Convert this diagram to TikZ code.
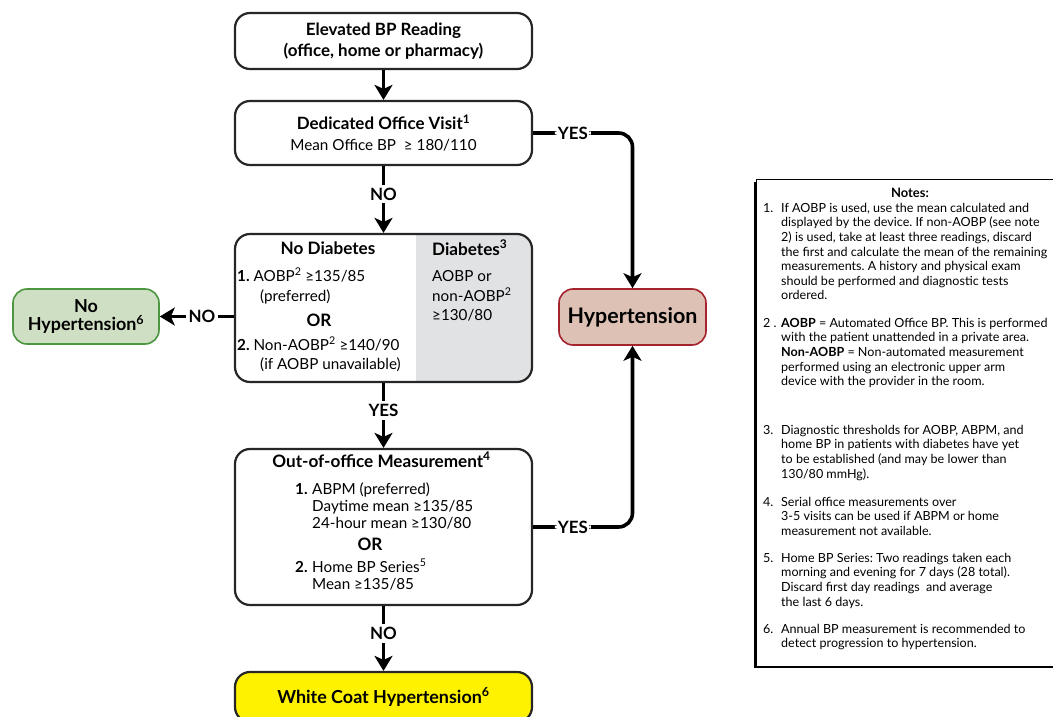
\documentclass[tikz,border=0pt]{standalone}
\usepackage{fontspec}
\setmainfont{Lato}
\usetikzlibrary{positioning}
\usetikzlibrary{arrows.meta}
\usetikzlibrary{calc}

\definecolor{diabgray}{RGB}{225,226,228}
\definecolor{nohypfill}{RGB}{207,223,196}
\definecolor{nohypline}{RGB}{76,150,64}
\definecolor{hypfill}{RGB}{220,193,180}
\definecolor{hypline}{RGB}{165,35,45}
\definecolor{coatfill}{RGB}{255,242,0}

\tikzset{
  box/.style={draw=black!85, line width=2.2bp, rounded corners=15bp, fill=white, minimum width=297bp, align=center, inner sep=0pt},
  arr/.style={line width=3.6bp, -{Stealth[length=15bp,width=18bp,inset=4bp]}},
  lbl/.style={fill=white, inner sep=3bp, font=\fontsize{17}{17}\bfseries\selectfont},
  txt/.style={inner sep=0pt, text height=11bp, text depth=3bp, font=\fontsize{15.3}{17}\selectfont},
  head/.style={txt, font=\fontsize{17.2}{17}\bfseries\selectfont},
  note/.style={inner sep=0pt, anchor=north west, align=left, font=\fontsize{12.6}{14.6}\selectfont}
}

\begin{document}
\frenchspacing
\begin{tikzpicture}[x=1bp, y=-1bp]
 \useasboundingbox (0,0) rectangle (1053,717);
 \clip (0,0) rectangle (1053,717);

 % main column
 \node[box, minimum height=56bp, font=\fontsize{17}{21}\bfseries\selectfont] (elev) at (383.5,41) {Elevated BP Reading\\(office, home or pharmacy)};
 \node[box, minimum height=64bp, font=\fontsize{15.3}{21}\selectfont] (visit) at (383.5,133) {{\fontsize{17}{21}\bfseries\selectfont Dedicated Office Visit\textsuperscript{1}}\\Mean Office BP\ \ ≥ 180/110};

 % screening box, grey column for diabetes
 \begin{scope}
  \clip[rounded corners=15bp] (235,234) rectangle (532,382);
  \fill[diabgray] (416,234) rectangle (532,382);
 \end{scope}
 \node[box, fill=none, minimum height=148bp] (screen) at (383.5,308) {};
 \node[head] (nodiab) at (328,250) {No Diabetes};
 \node[txt, anchor=west] (nd1) at (237,277) {\textbf{1.} AOBP\textsuperscript{2} ≥135/85};
 \node[txt, anchor=west] (nd1b) at (260,297) {(preferred)};
 \node[head] (ndor) at (319,322) {OR};
 \node[txt, anchor=west] (nd2) at (237,346) {\textbf{2.} Non-AOBP\textsuperscript{2} ≥140/90};
 \node[txt, anchor=west] (nd2b) at (260,365) {(if AOBP unavailable)};
 \node[head, anchor=west] (diab) at (432,251) {Diabetes\textsuperscript{3}};
 \node[txt, anchor=west] (d1) at (432,277) {AOBP or};
 \node[txt, anchor=west] (d2) at (432,297) {non-AOBP\textsuperscript{2}};
 \node[txt, anchor=west] (d3) at (432,316) {≥130/80};

 % out of office
 \node[box, minimum height=156bp] (outoff) at (383.5,527) {};
 \node[head] (oohead) at (381.5,463) {Out-of-office Measurement\textsuperscript{4}};
 \node[txt, anchor=west] (oo1n) at (295,490) {\textbf{1.}};
 \node[txt, anchor=west] (oo1a) at (312,490) {ABPM (preferred)};
 \node[txt, anchor=west] (oo1b) at (312,507) {Daytime mean ≥135/85};
 \node[txt, anchor=west] (oo1c) at (312,524) {24-hour mean ≥130/80};
 \node[head] (ooor) at (370,546) {OR};
 \node[txt, anchor=west] (oo2n) at (295,568) {\textbf{2.}};
 \node[txt, anchor=west] (oo2a) at (312,568) {Home BP Series\textsuperscript{5}};
 \node[txt, anchor=west] (oo2b) at (312,585) {Mean ≥135/85};

 \node[box, fill=coatfill, minimum height=50bp, font=\fontsize{18}{18}\bfseries\selectfont] (coat) at (383.5,697) {White Coat Hypertension\textsuperscript{6}};

 % outcomes
 \node[box, draw=hypline, fill=hypfill, line width=1.6bp, rounded corners=14bp, minimum width=147bp, minimum height=56bp, font=\fontsize{21.5}{20}\bfseries\selectfont] (hyp) at (632.5,317) {Hypertension};
 \node[box, draw=nohypline, fill=nohypfill, line width=1.6bp, rounded corners=14bp, minimum width=146bp, minimum height=55bp, font=\fontsize{18}{18}\bfseries\selectfont] (nohyp) at (86,316.5) {No\\Hypertension\textsuperscript{6}};

 % connectors
 \draw[arr] (elev) -- (visit);
 \draw[arr] (visit) -- node[lbl, pos=0.42] {NO} (screen);
 \draw[arr] (screen) -- node[lbl, pos=0.42] {YES} (outoff);
 \draw[arr] (outoff) -- node[lbl, pos=0.42] {NO} (coat);
 \draw[arr] (nohyp -| screen.west) -- node[lbl, pos=0.43] {NO} (nohyp);
 \draw[arr, rounded corners=14bp] (visit.east) -- node[lbl, pos=0.4] {YES} (visit.east -| hyp) -- (hyp);
 \draw[arr, rounded corners=14bp] (outoff.east) -- node[lbl, pos=0.4] {YES} (outoff.east -| hyp) -- (hyp);

 % notes
 \fill (754,182) rectangle (1070,668);
 \draw[fill=white, line width=1bp] (756,180) rectangle (1070,666);
 \node[font=\fontsize{13}{12}\bfseries\selectfont] (notes) at (910,193) {Notes:};
 \foreach \k/\n/\y/\t in {
   1/1./203/{If AOBP is used, use the mean calculated and\\displayed by the device. If non-AOBP (see note\\2) is used, take at least three readings, discard\\the first and calculate the mean of the remaining\\measurements. A history and physical exam\\should be performed and diagnostic tests\\ordered.},
   2/2 ./318/{\textbf{AOBP} = Automated Office BP. This is performed\\with the patient unattended in a private area.\\\textbf{Non-AOBP} = Non-automated measurement\\performed using an electronic upper arm\\device with the provider in the room.},
   3/3./425/{Diagnostic thresholds for AOBP, ABPM, and\\home BP in patients with diabetes have yet\\to be established (and may be lower than\\130/80 mmHg).},
   4/4./497/{Serial office measurements over\\3-5 visits can be used if ABPM or home\\measurement not available.},
   5/5./553/{Home BP Series: Two readings taken each\\morning and evening for 7 days (28 total).\\Discard first day readings\ \ and average\\the last 6 days.},
   6/6./624/{Annual BP measurement is recommended to\\detect progression to hypertension.}} {
   \node[note] (num\k) at (763,\y) {\n};
   \node[note] (note\k) at (781,\y) {\t};
 }
\end{tikzpicture}
\end{document}
